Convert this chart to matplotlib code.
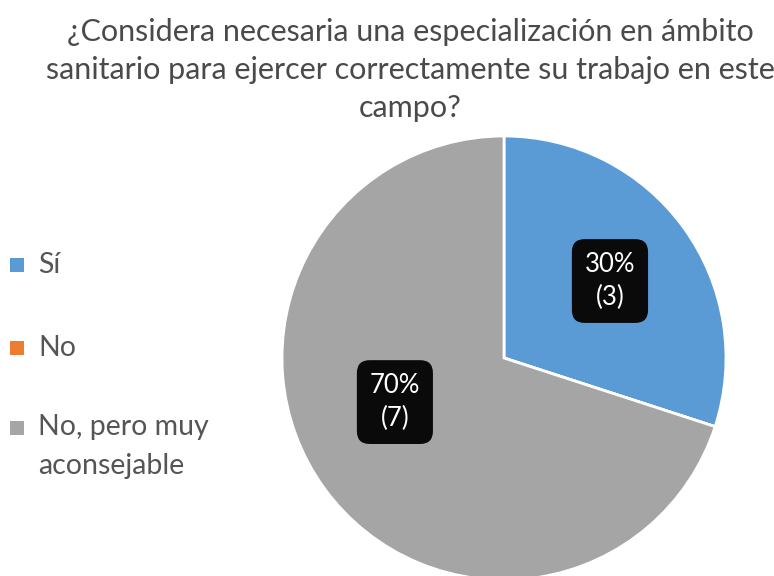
import math
import matplotlib.pyplot as plt

# respuestas de la encuesta
categorias = ["Sí", "No", "No, pero muy\naconsejable"]
respuestas = [3, 0, 7]
colores = ["#5B9BD5", "#ED7D31", "#A5A5A5"]
titulo = ("¿Considera necesaria una especialización en ámbito\n"
          "sanitario para ejercer correctamente su trabajo en este\n"
          "campo?")

W, H = 774, 576
fig = plt.figure(figsize=(W / 100, H / 100), dpi=100)
ax = fig.add_axes([0, 0, 1, 1])

fuente = "Lato"
gris_texto = "#555555"

total = sum(respuestas)
wedges, _ = ax.pie(respuestas, colors=colores, startangle=90, counterclock=False,
                   center=(504, H - 358), radius=222,
                   wedgeprops=dict(edgecolor="white", linewidth=2))
# pie() fija sus propios límites: se vuelven a poner en píxeles
ax.set_xlim(0, W)
ax.set_ylim(0, H)
ax.set_aspect("equal")
ax.axis("off")

# etiquetas de porcentaje con recuadro negro
ajuste = {0: (0.0, 0.59), 2: (-14.0, 0.53)}
for i, (w, v) in enumerate(zip(wedges, respuestas)):
    if v == 0:
        continue
    da, fr = ajuste.get(i, (0.0, 0.56))
    ang = math.radians((w.theta1 + w.theta2) / 2 + da)
    x = w.center[0] + fr * w.r * math.cos(ang)
    y = w.center[1] + fr * w.r * math.sin(ang)
    ax.text(x, y, f"{round(100 * v / total)}%\n({v})", ha="center", va="center",
            color="white", fontsize=18.5, family=fuente, linespacing=1.4,
            bbox=dict(boxstyle="round,pad=0.5,rounding_size=0.5",
                      fc="#0a0a0a", ec="none"))

# leyenda
ys = [265, 348, 428]
for c, lab, y in zip(colores, categorias, ys):
    ax.scatter([17], [H - y], marker="s", s=110, color=c, linewidths=0)
    if "\n" in lab:
        ax.text(38, H - y + 14, lab, ha="left", va="top", fontsize=20.5,
                family=fuente, color=gris_texto, linespacing=1.6)
    else:
        ax.text(38, H - y, lab, ha="left", va="center", fontsize=20.5,
                family=fuente, color=gris_texto)

ax.text(410, H - 70, titulo, ha="center", va="center", fontsize=22,
        family=fuente, color="#4a4a4a", linespacing=1.45)

fig.savefig("out.png", dpi=100)
